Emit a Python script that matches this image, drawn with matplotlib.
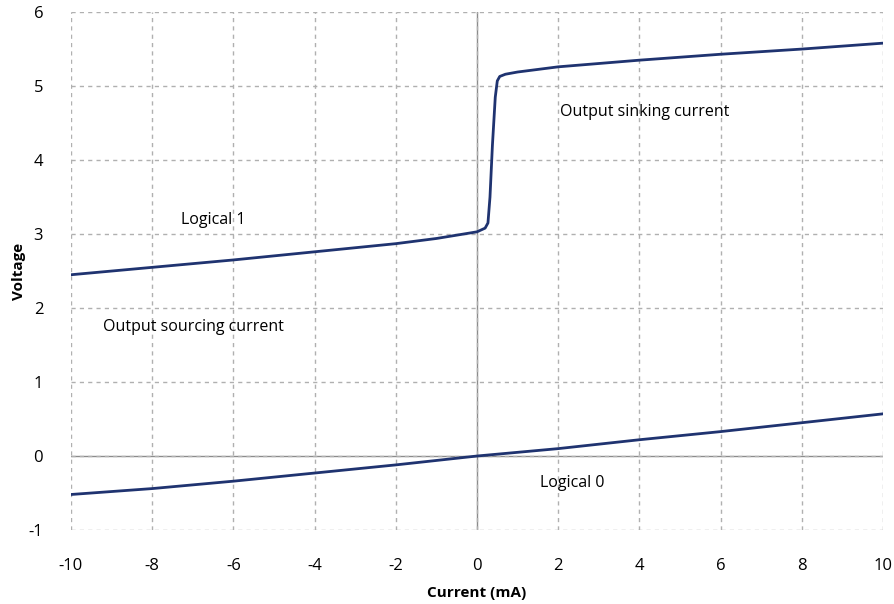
import numpy as np
from matplotlib import pyplot as plt

# logical 1 curve
x_high = [-10, -8, -6, -4, -2, -1, 0, 0.2, 0.27, 0.32, 0.38, 0.45, 0.5, 0.56, 0.7, 1, 2, 4, 6, 8, 10]
y_high = [2.45, 2.55, 2.65, 2.76, 2.87, 2.94, 3.03, 3.08, 3.15, 3.5, 4.2, 4.85, 5.07, 5.13, 5.16, 5.19, 5.26, 5.35, 5.43, 5.5, 5.58]

# logical 0 curve
x_low = [-10, -8, -6, -4, -2, 0, 2, 4, 6, 8, 10]
y_low = [-0.52, -0.44, -0.34, -0.23, -0.12, 0.0, 0.1, 0.22, 0.33, 0.45, 0.57]

x_ticks = np.arange(-10, 11, 2)
y_ticks = np.arange(-1, 7, 1)

plt.rcParams['font.family'] = ['Open Sans', 'DejaVu Sans']
plt.rcParams['axes.unicode_minus'] = False

fig = plt.figure(figsize=(8.94, 6.04), dpi=100)
ax = fig.add_axes([0.0794, 0.1225, 0.9083, 0.8575])

line_c = "#1f3370"
ax.plot(x_high, y_high, color=line_c, lw=2, solid_capstyle="round")
ax.plot(x_low, y_low, color=line_c, lw=2, solid_capstyle="round")

ax.set_xlim(-10, 10)
ax.set_ylim(-1, 6)
ax.set_xticks(x_ticks)
ax.set_yticks(y_ticks)
ax.grid(True, ls=(0, (3, 3)), color="#b0b0b0", lw=1)
ax.axhline(0, color="#8c8c8c", lw=1, zorder=1)
ax.axvline(0, color="#8c8c8c", lw=1, zorder=1)
for s in ax.spines.values():
    s.set_visible(False)
ax.tick_params(length=0, labelsize=12)
ax.tick_params(axis="x", pad=20)
ax.tick_params(axis="y", pad=20)

ax.set_xlabel("Current (mA)", fontweight="bold", fontsize=11, labelpad=9)
ax.set_ylabel("Voltage", fontweight="bold", fontsize=11, labelpad=2)

ax.text(-7.3, 3.19, "Logical 1", fontsize=11.5, va="center")
ax.text(-9.2, 1.74, "Output sourcing current", fontsize=11.5, va="center")
ax.text(2.05, 4.65, "Output sinking current", fontsize=11.5, va="center")
ax.text(1.55, -0.36, "Logical 0", fontsize=11.5, va="center")

fig.savefig("out.png", dpi=100)
